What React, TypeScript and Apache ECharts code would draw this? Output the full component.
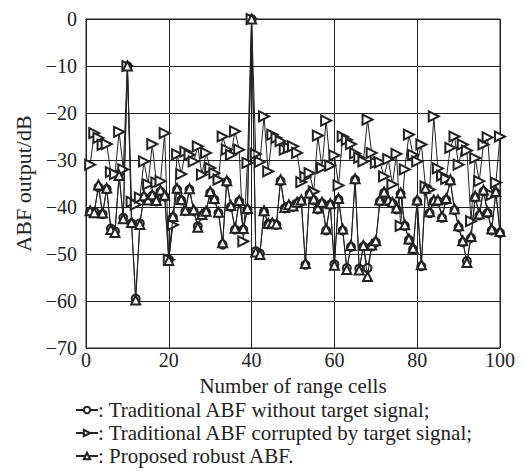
import React, { useEffect, useRef } from "react";
import * as echarts from "echarts";

const xTicks = [0, 20, 40, 60, 80, 100];
const yTicks = [0, -10, -20, -30, -40, -50, -60, -70];

const seriesNames = [
  ": Traditional ABF without target signal;",
  ": Traditional ABF corrupted by target signal;",
  ": Proposed robust ABF.",
];

// cells 1..100
const withoutTarget = [
  -41, -41, -35.8, -41.5, -36.2, -44.6, -45.2, -33, -42.3, -10,
  -43.5, -59.5, -43.5, -38, -38.3, -37.6, -38.8, -36.7, -37.8, -51.2,
  -42.2, -36.3, -38.6, -40.9, -36.3, -40.9, -44.1, -41.8, -41.1, -37,
  -38.4, -41.3, -48, -34.7, -40, -44.8, -38.8, -44.8, -40.6, 0,
  -49.4, -49.9, -41, -43.7, -43.6, -43.8, -34.5, -40.3, -39.8, -40,
  -39.2, -38.8, -52.3, -37.2, -38.6, -40.5, -39.2, -45, -39.5, -52.2,
  -38.4, -45, -53, -48.5, -34.2, -53.1, -48.4, -53, -48.4, -47.5,
  -38.8, -37, -38.8, -39.2, -40.5, -37.2, -44, -47, -49, -38.8,
  -52.6, -36.2, -41.3, -38.8, -38.8, -42.3, -38.5, -34.5, -40.7, -44.3,
  -47.5, -51.5, -46.6, -38, -41.8, -36.7, -41.3, -45, -37, -45.5,
];

const corrupted = [
  -31, -24.3, -25.3, -26.8, -26.6, -32.6, -33, -24, -32, -10,
  -38.9, -39.5, -38, -30.3, -35.2, -26.6, -34.8, -34.5, -24.3, -51.2,
  -43.8, -28.8, -33, -28.2, -28.9, -30.3, -27.1, -33.1, -28.5, -31.7,
  -32.8, -34.2, -25, -27.8, -28.9, -23.9, -27.8, -47.3, -30.6, 0,
  -28.7, -30.4, -20.7, -32.4, -24.6, -25.3, -26, -27.8, -27.4, -27.1,
  -28.5, -34.7, -33.6, -32.8, -36.7, -24.8, -31.7, -21.6, -31.2, -29,
  -35.4, -25, -25.7, -26.6, -28.6, -29.5, -30.3, -21.4, -28.5, -30.6,
  -30.5, -33.5, -29.8, -35.2, -28.7, -44, -32, -24.6, -28.9, -30.3,
  -26.7, -35.6, -36.3, -20.7, -31.8, -33.3, -34, -27.4, -25, -31,
  -26.7, -28, -43, -29.6, -34.5, -26.7, -25.2, -37.4, -34.8, -25,
];

const robust = [
  -40.8, -41.2, -35.3, -41.3, -36, -44.8, -45.4, -33.3, -42.5, -10,
  -43.3, -59.8, -43.7, -37.6, -38.5, -37.4, -38.6, -36.4, -37.5, -51.4,
  -42, -36, -38.4, -40.7, -36.1, -40.6, -44.3, -41.6, -40.9, -36.7,
  -38.2, -41.1, -47.6, -34.4, -39.7, -44.5, -38.6, -44.6, -40.3, 0,
  -49.6, -50.1, -40.8, -43.5, -43.4, -43.6, -34.2, -40.1, -39.5, -39.8,
  -39, -38.5, -52, -37, -38.3, -40.2, -39, -44.7, -39.3, -52.4,
  -38.2, -44.7, -53.3, -48.2, -34, -53.4, -48.2, -54.8, -48.1, -47.2,
  -38.5, -36.8, -38.5, -39, -40.2, -37, -43.8, -46.8, -48.8, -38.5,
  -52.3, -36, -41, -38.5, -38.5, -42, -38.2, -34.2, -40.4, -44,
  -47.2, -51.8, -46.3, -37.7, -41.5, -36.4, -41, -44.7, -36.7, -45.2,
];

const FONT = "Liberation Serif";
const INK = "#222";

function fmtY(v: number) {
  return v < 0 ? "\u2212" + Math.abs(v) : String(v);
}

export default function App() {
  const ref = useRef<HTMLDivElement>(null);
  useEffect(() => {
    if (!ref.current) return;
    const chart = echarts.init(ref.current, undefined, { renderer: "svg" });
    const toPairs = (arr: number[]) => arr.map((v, i) => [i + 1, v]);
    const common = {
      type: "line" as const,
      color: INK,
      lineStyle: { color: INK, width: 1 },
      itemStyle: { color: INK, borderWidth: 1 },
      showAllSymbol: true,
    };
    chart.setOption({
      animation: false,
      backgroundColor: "#fff",
      textStyle: { fontFamily: FONT },
      grid: {
        left: 86,
        top: 19,
        width: 414,
        height: 329,
        show: true,
        borderColor: INK,
        borderWidth: 1,
        backgroundColor: "transparent",
      },
      xAxis: {
        type: "value",
        min: xTicks[0],
        max: xTicks[xTicks.length - 1],
        interval: 20,
        name: "Number of range cells",
        nameLocation: "middle",
        nameGap: 27,
        nameTextStyle: { fontFamily: FONT, fontSize: 21, lineHeight: 21, color: INK },
        axisLine: { show: true, lineStyle: { color: INK } },
        axisTick: { show: false },
        axisLabel: { fontFamily: FONT, fontSize: 20, color: INK, margin: 2 },
        splitLine: { show: true, lineStyle: { color: INK, width: 1 } },
      },
      yAxis: {
        type: "value",
        min: yTicks[yTicks.length - 1],
        max: yTicks[0],
        interval: 10,
        name: "ABF output/dB",
        nameLocation: "middle",
        nameGap: 52,
        nameTextStyle: { fontFamily: FONT, fontSize: 22, color: INK },
        axisLine: { show: true, lineStyle: { color: INK } },
        axisTick: { show: false },
        axisLabel: { fontFamily: FONT, fontSize: 20, color: INK, margin: 9, formatter: fmtY },
        splitLine: { show: true, lineStyle: { color: INK, width: 1 } },
      },
      legend: {
        orient: "vertical",
        left: 75,
        top: 399,
        width: 440,
        height: 72,
        padding: 0,
        itemWidth: 22,
        itemHeight: 8,
        itemGap: 1,
        textStyle: { fontFamily: FONT, fontSize: 21, color: INK, lineHeight: 22, padding: [0, 0, 0, -5] },
        data: seriesNames,
      },
      series: [
        {
          ...common,
          name: seriesNames[0],
          symbol: "emptyCircle",
          symbolSize: 8,
          data: toPairs(withoutTarget),
          z: 2,
        },
        {
          ...common,
          name: seriesNames[1],
          symbol: "emptyTriangle",
          symbolSize: 10,
          symbolRotate: -90,
          data: toPairs(corrupted),
          z: 3,
        },
        {
          ...common,
          name: seriesNames[2],
          symbol: "emptyTriangle",
          symbolSize: 9,
          data: toPairs(robust),
          z: 4,
        },
      ],
    });
    return () => chart.dispose();
  }, []);
  return (
    <div
      ref={ref}
      style={{ position: "fixed", left: 0, top: 0, width: 523, height: 473, background: "#fff" }}
    />
  );
}
